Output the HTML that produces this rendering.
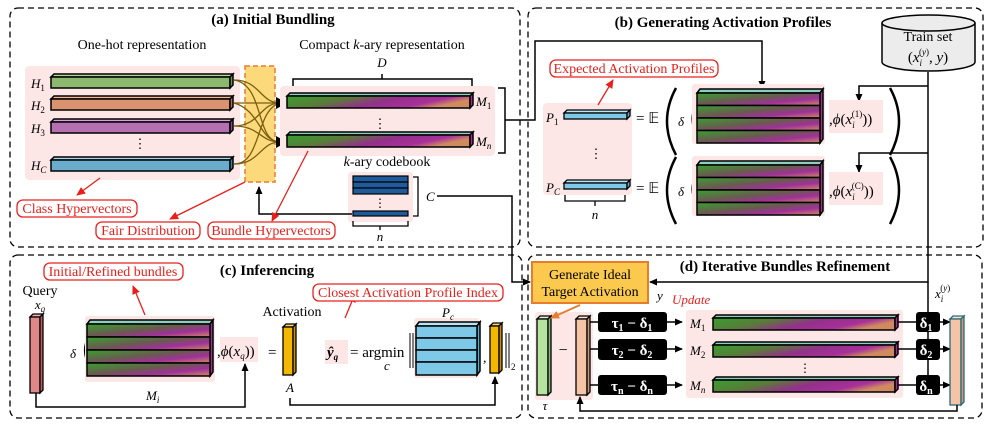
<!DOCTYPE html>
<html><head><meta charset="utf-8"><style>
html,body{margin:0;padding:0;background:#fff;}
svg{display:block;}
text{font-family:"Liberation Serif",serif;}
.t{font-weight:bold;font-size:15px;}
.m{font-style:italic;font-size:13px;}
.r{fill:#e8201c;font-size:14px;}
.w{fill:#fff;font-weight:bold;font-size:15px;}
</style></head><body>
<svg width="997" height="427" viewBox="0 0 997 427" xmlns="http://www.w3.org/2000/svg">
<defs>
<linearGradient id="g" x1="0" y1="0" x2="1" y2="0.3">
<stop offset="0" stop-color="#38a030"/><stop offset="0.35" stop-color="#5a7a3a"/><stop offset="0.6" stop-color="#93308a"/><stop offset="0.85" stop-color="#a8309a"/><stop offset="1" stop-color="#d08a60"/></linearGradient>
<linearGradient id="gb" x1="0" y1="0" x2="1" y2="1">
<stop offset="0" stop-color="#38a030"/><stop offset="0.45" stop-color="#6a5a50"/><stop offset="0.7" stop-color="#a0309a"/><stop offset="1" stop-color="#d08a60"/></linearGradient>
<marker id="a" markerWidth="8" markerHeight="8" refX="7" refY="4" orient="auto" markerUnits="userSpaceOnUse"><path d="M0,0.5 L8,4 L0,7.5z" fill="#000"/></marker>
<marker id="ar" markerWidth="9" markerHeight="9" refX="8" refY="4.5" orient="auto" markerUnits="userSpaceOnUse"><path d="M0,0.5 L9,4.5 L0,8.5z" fill="#e8201c"/></marker>
<marker id="ao" markerWidth="9" markerHeight="9" refX="8" refY="4.5" orient="auto" markerUnits="userSpaceOnUse"><path d="M0,0.5 L9,4.5 L0,8.5z" fill="#e97c2c"/></marker>
</defs>
<g fill="none" stroke="#000" stroke-width="1.3" stroke-dasharray="6,4">
<rect x="10" y="8" width="510" height="239" rx="8"/>
<rect x="528" y="8" width="455" height="239" rx="8"/>
<rect x="10" y="255" width="512" height="163" rx="8"/>
<rect x="528" y="255" width="454" height="163" rx="8"/>
</g>
<!-- (a) -->
<text x="273" y="24" text-anchor="middle" class="t">(a) Initial Bundling</text>
<text x="142" y="49" text-anchor="middle" font-size="14">One-hot representation</text>
<text x="382" y="49" text-anchor="middle" font-size="14">Compact <tspan font-style="italic">k</tspan>-ary representation</text>
<rect x="25" y="66" width="215" height="114" rx="4" fill="#fde6e6"/>
<g stroke="#000" stroke-width="1.5">
<polygon points="51,77 54,74 233,74 230,77" fill="#b8d8a0"/><rect x="51" y="77" width="179" height="11" fill="#8db870"/><polygon points="230,77 233,74 233,85 230,88" fill="#6a9050"/>
<polygon points="51,99 54,96 233,96 230,99" fill="#f0b898"/><rect x="51" y="99" width="179" height="11" fill="#d9936f"/><polygon points="230,99 233,96 233,107 230,110" fill="#b07050"/>
<polygon points="51,122 54,119 233,119 230,122" fill="#d8a0d8"/><rect x="51" y="122" width="179" height="11" fill="#b470b0"/><polygon points="230,122 233,119 233,130 230,133" fill="#8a4a8a"/>
<polygon points="51,160 54,157 233,157 230,160" fill="#a8d8ec"/><rect x="51" y="160" width="179" height="11" fill="#6aaccc"/><polygon points="230,160 233,157 233,168 230,171" fill="#3e7e9e"/>
</g>
<g class="m" font-size="14"><text x="31" y="88">H<tspan font-size="9" dy="3" font-style="normal">1</tspan></text>
<text x="31" y="110">H<tspan font-size="9" dy="3" font-style="normal">2</tspan></text>
<text x="31" y="133">H<tspan font-size="9" dy="3" font-style="normal">3</tspan></text>
<text x="31" y="170">H<tspan font-size="9" dy="3">C</tspan></text></g>
<text x="140" y="148" text-anchor="middle" font-size="13">⋮</text>
<rect x="245" y="66" width="30" height="116" fill="#fcd97a" stroke="#e97c2c" stroke-width="1.5" stroke-dasharray="5,3"/>
<g fill="none" stroke="#7a6010" stroke-width="1.3">
<path d="M234,80 C260,80 260,103 280,103"/><path d="M234,80 C265,85 255,142 280,142"/>
<path d="M234,103 L280,103"/><path d="M234,103 C260,110 260,142 280,142"/>
<path d="M234,126 C260,126 260,103 280,103"/><path d="M234,126 C260,126 260,142 280,142"/>
<path d="M234,164 C262,164 255,110 280,103"/><path d="M234,164 C260,164 260,142 280,142"/>
</g>
<polygon points="276,97 287,103 276,109" fill="#000"/>
<polygon points="276,136 287,142 276,148" fill="#000"/>
<rect x="280" y="86" width="215" height="70" rx="4" fill="#fde6e6"/>
<g stroke="#000" stroke-width="1.5">
<polygon points="287,96 290,93 473,93 470,96" fill="#8ccfc0"/><rect x="287" y="96" width="183" height="12" fill="url(#g)"/><polygon points="470,96 473,93 473,105 470,108" fill="#a03090"/>
<polygon points="287,135 290,132 473,132 470,135" fill="#8ccfc0"/><rect x="287" y="135" width="183" height="12" fill="url(#g)"/><polygon points="470,135 473,132 473,144 470,147" fill="#a03090"/>
</g>
<path d="M293,86 V79 H472 V86 M382,79 V74" fill="none" stroke="#000" stroke-width="1.5"/>
<text x="382" y="67" text-anchor="middle" class="m" font-size="14">D</text>
<text x="380" y="128" text-anchor="middle" font-size="13">⋮</text>
<g class="m" font-size="14"><text x="476" y="106">M<tspan font-size="9" dy="3" font-style="normal">1</tspan></text><text x="476" y="146">M<tspan font-size="9" dy="3">n</tspan></text></g>
<path d="M498,88 H505 V153 H498 M505,120 H520 L535,120 V41 H762 V88" fill="none" stroke="#000" stroke-width="1.5" marker-end="url(#a)"/>
<text x="387" y="166" text-anchor="middle" font-size="14"><tspan font-style="italic">k</tspan>-ary codebook</text>
<rect x="348" y="172" width="65" height="50" rx="3" fill="#fde6e6"/>
<g stroke="#000" stroke-width="1.2" fill="#1f5b9a">
<rect x="353" y="176" width="55" height="6"/><rect x="353" y="182" width="55" height="6"/><rect x="353" y="188" width="55" height="6"/><rect x="353" y="211" width="55" height="5"/>
</g>
<text x="380" y="207" text-anchor="middle" font-size="12">⋮</text>
<path d="M413,177 H418 V216 H413" fill="none" stroke="#000" stroke-width="1.3"/>
<text x="426" y="201" class="m" font-size="13">C</text>
<path d="M353,221 V226 H408 V221 M380,226 V230" fill="none" stroke="#000" stroke-width="1.3"/>
<text x="380" y="241" text-anchor="middle" class="m" font-size="14">n</text>
<path d="M352,214 H259 V187" fill="none" stroke="#000" stroke-width="1.5" marker-end="url(#a)"/>
<path d="M437,196 H512 V282 H530" fill="none" stroke="#000" stroke-width="1.5" marker-end="url(#a)"/>
<g fill="none" stroke="#e8201c" stroke-width="1.3">
<line x1="100" y1="178" x2="77" y2="195" marker-end="url(#ar)"/>
<line x1="245" y1="182" x2="170" y2="219" marker-end="url(#ar)"/>
<line x1="308" y1="151" x2="272" y2="221" marker-end="url(#ar)"/>
<rect x="17" y="200" width="120" height="17" rx="6" fill="#fff"/>
<rect x="96" y="222" width="104" height="17" rx="6" fill="#fff"/>
<rect x="208" y="222" width="127" height="17" rx="6" fill="#fff"/>
</g>
<text x="77" y="213" text-anchor="middle" class="r">Class Hypervectors</text>
<text x="148" y="235" text-anchor="middle" class="r">Fair Distribution</text>
<text x="271" y="235" text-anchor="middle" class="r">Bundle Hypervectors</text>
<!-- (b) -->
<text x="723" y="27" text-anchor="middle" class="t">(b) Generating Activation Profiles</text>
<path d="M882,23 V62 A46.5,9 0 0 0 975,62 V23" fill="#ececec" stroke="#000" stroke-width="1.5"/>
<ellipse cx="928.5" cy="23" rx="46.5" ry="8" fill="#ececec" stroke="#000" stroke-width="1.5"/>
<text x="928" y="41" text-anchor="middle" font-size="14">Train set</text>
<text x="928" y="62" text-anchor="middle" font-size="15">(<tspan font-style="italic">x</tspan><tspan font-size="9" font-style="italic" dy="4">i</tspan><tspan font-size="9" dx="-3" dy="-11">(</tspan><tspan font-size="9" font-style="italic">y</tspan><tspan font-size="9">)</tspan><tspan dy="7">, </tspan><tspan font-style="italic">y</tspan>)</text>
<path d="M928,72 V282 H650" fill="none" stroke="#000" stroke-width="1.5" marker-end="url(#a)"/>
<path d="M928,282 V395" fill="none" stroke="#000" stroke-width="1.5"/>
<path d="M928,86 H859 V101" fill="none" stroke="#000" stroke-width="1.5" marker-end="url(#a)"/>
<path d="M928,153 H859 V172" fill="none" stroke="#000" stroke-width="1.5" marker-end="url(#a)"/>
<rect x="543" y="103" width="89" height="92" rx="4" fill="#fde6e6"/>
<g stroke="#000" stroke-width="1.3">
<polygon points="564,113 567,110 630,110 627,113" fill="#b8e4f4"/><rect x="564" y="113" width="63" height="6" fill="#7ec8e8"/><polygon points="627,113 630,110 630,116 627,119" fill="#5aa8c8"/>
<polygon points="564,183 567,180 630,180 627,183" fill="#b8e4f4"/><rect x="564" y="183" width="63" height="6" fill="#7ec8e8"/><polygon points="627,183 630,180 630,186 627,189" fill="#5aa8c8"/>
</g>
<g class="m" font-size="14"><text x="546" y="122">P<tspan font-size="9" dy="3" font-style="normal">1</tspan></text><text x="546" y="192">P<tspan font-size="9" dy="3">C</tspan></text></g>
<text x="596" y="158" text-anchor="middle" font-size="13">⋮</text>
<path d="M565,195 V201 H625 V195 M595,201 V206" fill="none" stroke="#000" stroke-width="1.3"/>
<text x="595" y="219" text-anchor="middle" class="m" font-size="14">n</text>
<text x="636" y="123" font-size="15">= 𝔼</text><text x="636" y="193" font-size="15">= 𝔼</text>
<path d="M676,88 Q658,121 676,155" fill="none" stroke="#000" stroke-width="2.5"/>
<path d="M676,157 Q658,190 676,224" fill="none" stroke="#000" stroke-width="2.5"/>
<path d="M890,88 Q908,121 890,155" fill="none" stroke="#000" stroke-width="2.5"/>
<path d="M890,157 Q908,190 890,224" fill="none" stroke="#000" stroke-width="2.5"/>
<text x="678" y="126" class="m" font-size="15">δ</text><text x="678" y="196" class="m" font-size="15">δ</text>
<path d="M697,104 Q687,118 697,136" fill="none" stroke="#000" stroke-width="1.2"/>
<path d="M697,174 Q687,188 697,206" fill="none" stroke="#000" stroke-width="1.2"/>
<rect x="692" y="84" width="133" height="60" rx="3" fill="#fde6e6"/>
<rect x="692" y="156" width="133" height="60" rx="3" fill="#fde6e6"/>
<g stroke="#000" stroke-width="1.5">
<polygon points="697,93 700,89 823,89 820,93" fill="#8ccfc0"/><polygon points="820,93 823,89 823,139 820,143" fill="#a03090"/>
<rect x="697" y="93" width="123" height="12.5" fill="url(#gb)"/><rect x="697" y="105.5" width="123" height="12.5" fill="url(#gb)"/><rect x="697" y="118" width="123" height="12.5" fill="url(#gb)"/><rect x="697" y="130.5" width="123" height="12.5" fill="url(#gb)"/>
<polygon points="697,165 700,161 823,161 820,165" fill="#8ccfc0"/><polygon points="820,165 823,161 823,211 820,215" fill="#a03090"/>
<rect x="697" y="165" width="123" height="12.5" fill="url(#gb)"/><rect x="697" y="177.5" width="123" height="12.5" fill="url(#gb)"/><rect x="697" y="190" width="123" height="12.5" fill="url(#gb)"/><rect x="697" y="202.5" width="123" height="12.5" fill="url(#gb)"/>
</g>
<rect x="829" y="100" width="54" height="33" fill="#fde6e6"/><rect x="829" y="172" width="54" height="33" fill="#fde6e6"/>
<text x="829" y="124" font-size="15">,<tspan font-style="italic">ϕ</tspan>(<tspan font-style="italic">x</tspan><tspan font-size="9" font-style="italic" dy="4">i</tspan><tspan font-size="9" dx="-3" dy="-11">(1)</tspan><tspan dy="7">))</tspan></text>
<text x="829" y="196" font-size="15">,<tspan font-style="italic">ϕ</tspan>(<tspan font-style="italic">x</tspan><tspan font-size="9" font-style="italic" dy="4">i</tspan><tspan font-size="9" dx="-3" dy="-11">(C)</tspan><tspan dy="7">))</tspan></text>
<line x1="598" y1="105" x2="613" y2="80" stroke="#e8201c" stroke-width="1.3" marker-end="url(#ar)"/>
<rect x="550" y="60" width="168" height="17" rx="6" fill="#fff" stroke="#e8201c" stroke-width="1.3"/>
<text x="634" y="73" text-anchor="middle" class="r">Expected Activation Profiles</text>
<!-- (c) -->
<text x="267" y="275" text-anchor="middle" class="t">(c) Inferencing</text>
<line x1="145" y1="315" x2="133" y2="286" stroke="#e8201c" stroke-width="1.3" marker-end="url(#ar)"/>
<rect x="44" y="263" width="139" height="17" rx="6" fill="#fff" stroke="#e8201c" stroke-width="1.3"/>
<text x="113" y="276" text-anchor="middle" class="r">Initial/Refined bundles</text>
<text x="40" y="295" text-anchor="middle" font-size="14">Query</text>
<text x="40" y="309" text-anchor="middle" class="m" font-size="14">x<tspan font-size="9" dy="3">q</tspan></text>
<g stroke="#000" stroke-width="1.3">
<polygon points="30,317 33,314 43,314 40,317" fill="#f0b0b0"/><rect x="30" y="317" width="10" height="76" fill="#e08888"/><polygon points="40,317 43,314 43,390 40,393" fill="#b86060"/>
</g>
<text x="70" y="358" class="m" font-size="15">δ</text>
<path d="M89,335 Q80,350 89,366" fill="none" stroke="#000" stroke-width="1.2"/>
<rect x="85" y="316" width="130" height="66" rx="3" fill="#fde6e6"/>
<g stroke="#000" stroke-width="1.5">
<polygon points="87,324 90,320 213,320 210,324" fill="#8ccfc0"/><polygon points="210,324 213,320 213,372 210,376" fill="#a03090"/>
<rect x="87" y="324" width="123" height="13" fill="url(#gb)"/><rect x="87" y="337" width="123" height="13" fill="url(#gb)"/><rect x="87" y="350" width="123" height="13" fill="url(#gb)"/><rect x="87" y="363" width="123" height="13" fill="url(#gb)"/>
</g>
<rect x="220" y="337" width="38" height="25" fill="#fde6e6"/>
<text x="217" y="356" font-size="15">,<tspan font-style="italic">ϕ</tspan>(<tspan font-style="italic">x</tspan><tspan font-size="9" font-style="italic" dy="3">q</tspan><tspan dy="-3">))</tspan></text>
<text x="268" y="357" font-size="15">=</text>
<text x="146" y="400" class="m" font-size="14">M<tspan font-size="9" dy="3">i</tspan></text>
<path d="M36,393 V407 H245 V364" fill="none" stroke="#000" stroke-width="1.5" marker-end="url(#a)"/>
<text x="292" y="316" text-anchor="middle" font-size="14">Activation</text>
<g stroke="#000" stroke-width="1.3">
<polygon points="283,327 286,324 296,324 293,327" fill="#fad870"/><rect x="283" y="327" width="10" height="48" fill="#f5b800"/><polygon points="293,327 296,324 296,372 293,375" fill="#c89000"/>
</g>
<text x="290" y="392" text-anchor="middle" class="m" font-size="14">A</text>
<path d="M290,398 V405 H495 V377" fill="none" stroke="#000" stroke-width="1.5" marker-end="url(#a)"/>
<line x1="345" y1="318" x2="355" y2="294" stroke="#e8201c" stroke-width="1.3" marker-end="url(#ar)"/>
<rect x="313" y="284" width="190" height="17" rx="6" fill="#fff" stroke="#e8201c" stroke-width="1.3"/>
<text x="408" y="297" text-anchor="middle" class="r">Closest Activation Profile Index</text>
<rect x="325" y="340" width="23" height="24" fill="#fde6e6"/>
<text x="327" y="357" font-size="15" font-weight="bold" font-style="italic">ŷ<tspan font-size="9" dy="3">q</tspan></text>
<text x="350" y="357" font-size="15">= argmin</text>
<text x="384" y="370" class="m" font-size="10">c</text>
<path d="M410,333 V368 M413,333 V368" stroke="#000" stroke-width="1"/>
<rect x="414" y="318" width="65" height="60" rx="3" fill="#fde6e6"/>
<text x="448" y="317" text-anchor="middle" class="m" font-size="14">P<tspan font-size="9" dy="3">c</tspan></text>
<g stroke="#000" stroke-width="1.5">
<polygon points="416,326 419,322 480,322 477,326" fill="#b8e4f4"/><polygon points="477,326 480,322 480,371 477,375" fill="#5aa8c8"/>
<rect x="416" y="326" width="61" height="12" fill="#7ec8e8"/><rect x="416" y="338" width="61" height="12" fill="#7ec8e8"/><rect x="416" y="350" width="61" height="12" fill="#7ec8e8"/><rect x="416" y="362" width="61" height="13" fill="#7ec8e8"/>
</g>
<text x="483" y="362" font-size="14">,</text>
<g stroke="#000" stroke-width="1.3">
<polygon points="490,326 493,323 502,323 499,326" fill="#fad870"/><rect x="490" y="326" width="9" height="47" fill="#f5b800"/><polygon points="499,326 502,323 502,370 499,373" fill="#c89000"/>
</g>
<path d="M506,333 V368 M509,333 V368" stroke="#000" stroke-width="1"/>
<text x="511" y="370" font-size="9">2</text>
<!-- (d) -->
<text x="785" y="271" text-anchor="middle" class="t">(d) Iterative Bundles Refinement</text>
<rect x="532" y="262" width="116" height="41" fill="#fbc94e" stroke="#e97c2c" stroke-width="2"/>
<text x="590" y="279" text-anchor="middle" font-size="14">Generate Ideal</text>
<text x="590" y="296" text-anchor="middle" font-size="14">Target Activation</text>
<text x="657" y="300" class="m" font-size="14">y</text>
<text x="672" y="304" class="m" fill="#e8201c" font-size="14">Update</text>
<text x="935" y="298" class="m" font-size="14">x<tspan font-size="9" dy="4">i</tspan><tspan font-size="9" dx="-3" dy="-11" font-style="normal">(</tspan><tspan font-size="9">y</tspan><tspan font-size="9" font-style="normal">)</tspan></text>
<rect x="535" y="312" width="58" height="88" rx="3" fill="#fde6e6"/>
<g stroke="#000" stroke-width="1.3">
<polygon points="537,319 540,316 551,316 548,319" fill="#d8f4c8"/><rect x="537" y="319" width="11" height="76" fill="#b5e3a0"/><polygon points="548,319 551,316 551,392 548,395" fill="#88b878"/>
<polygon points="576,319 579,316 590,316 587,319" fill="#fbe0d0"/><rect x="576" y="319" width="11" height="76" fill="#f5c3a5"/><polygon points="587,319 590,316 590,392 587,395" fill="#c89878"/>
</g>
<line x1="580" y1="305" x2="551" y2="318" stroke="#e97c2c" stroke-width="1.8" marker-end="url(#ao)"/>
<text x="563" y="355" text-anchor="middle" font-size="16">−</text>
<text x="545" y="410" text-anchor="middle" class="m" font-size="12">τ</text>
<g stroke="#000" stroke-width="1.5" fill="none">
<path d="M590,322 H598 M590,349 H598 M590,385 H598"/>
<path d="M667,322 H682" marker-end="url(#a)"/><path d="M667,349 H682" marker-end="url(#a)"/><path d="M667,385 H682" marker-end="url(#a)"/>
</g>
<rect x="598" y="312" width="69" height="20" rx="3" fill="#000"/>
<rect x="598" y="339" width="69" height="21" rx="3" fill="#000"/>
<rect x="598" y="375" width="69" height="20" rx="3" fill="#000"/>
<text x="632" y="328" text-anchor="middle" class="w">τ<tspan font-size="10" dy="3">1</tspan><tspan dy="-3"> − δ</tspan><tspan font-size="10" dy="3">1</tspan></text>
<text x="632" y="355" text-anchor="middle" class="w">τ<tspan font-size="10" dy="3">2</tspan><tspan dy="-3"> − δ</tspan><tspan font-size="10" dy="3">2</tspan></text>
<text x="632" y="391" text-anchor="middle" class="w">τ<tspan font-size="10" dy="3">n</tspan><tspan dy="-3"> − δ</tspan><tspan font-size="10" dy="3">n</tspan></text>
<rect x="686" y="310" width="217" height="88" rx="3" fill="#fde6e6"/>
<g class="m" font-size="14"><text x="690" y="328">M<tspan font-size="9" dy="3" font-style="normal">1</tspan></text><text x="690" y="355">M<tspan font-size="9" dy="3" font-style="normal">2</tspan></text><text x="690" y="390">M<tspan font-size="9" dy="3">n</tspan></text></g>
<g stroke="#000" stroke-width="1.5">
<polygon points="713,318 716,315 898,315 895,318" fill="#8ccfc0"/><rect x="713" y="318" width="182" height="12" fill="url(#g)"/><polygon points="895,318 898,315 898,327 895,330" fill="#a03090"/>
<polygon points="713,345 716,342 898,342 895,345" fill="#8ccfc0"/><rect x="713" y="345" width="182" height="12" fill="url(#g)"/><polygon points="895,345 898,342 898,354 895,357" fill="#a03090"/>
<polygon points="713,380 716,377 898,377 895,380" fill="#8ccfc0"/><rect x="713" y="380" width="182" height="12" fill="url(#g)"/><polygon points="895,380 898,377 898,389 895,392" fill="#a03090"/>
</g>
<text x="805" y="372" text-anchor="middle" font-size="12">⋮</text>
<g stroke="#000" stroke-width="1.5" fill="none">
<path d="M898,322 H916 M898,349 H916 M898,385 H916"/>
<path d="M940,322 H950" marker-end="url(#a)"/><path d="M940,349 H950" marker-end="url(#a)"/><path d="M940,385 H950" marker-end="url(#a)"/>
</g>
<rect x="916" y="312" width="24" height="20" rx="3" fill="#000"/>
<rect x="916" y="339" width="24" height="21" rx="3" fill="#000"/>
<rect x="916" y="375" width="24" height="20" rx="3" fill="#000"/>
<text x="926" y="328" text-anchor="middle" class="w">δ<tspan font-size="10" dy="3">1</tspan></text>
<text x="926" y="355" text-anchor="middle" class="w">δ<tspan font-size="10" dy="3">2</tspan></text>
<text x="926" y="391" text-anchor="middle" class="w">δ<tspan font-size="10" dy="3">n</tspan></text>
<g stroke="#2a6a7a" stroke-width="1.3">
<polygon points="950,319 953,316 964,316 961,319" fill="#fbe0d0"/><rect x="950" y="319" width="11" height="86" fill="#f5c3a5"/><polygon points="961,319 964,316 964,402 961,405" fill="#c89878"/>
</g>
<path d="M957,405 V411 H580 V397" fill="none" stroke="#000" stroke-width="1.5" marker-end="url(#a)"/>
</svg>
</body></html>
